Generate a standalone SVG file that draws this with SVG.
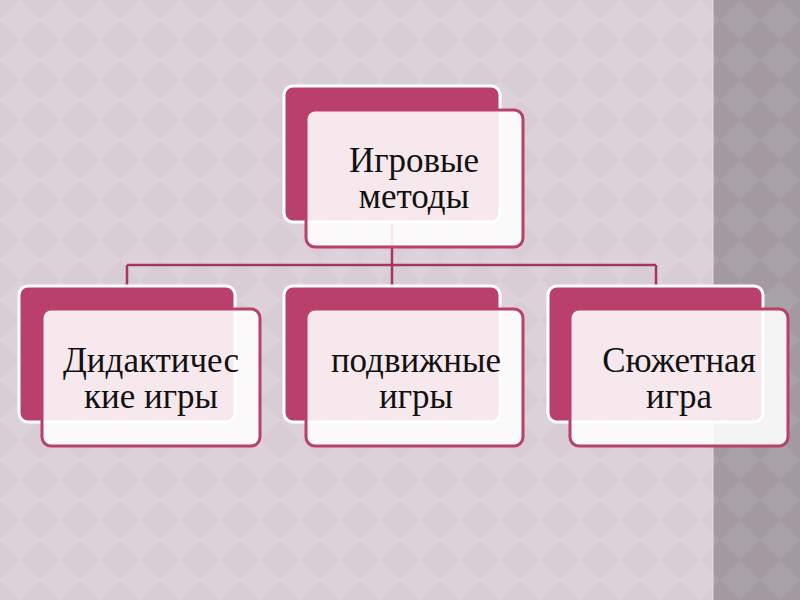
<svg xmlns="http://www.w3.org/2000/svg" width="800" height="600" viewBox="0 0 800 600">
<defs>
<pattern id="bgL" width="40" height="40" patternUnits="userSpaceOnUse">
<rect width="40" height="40" fill="#D9CDD5"/>
<path d="M20 0 L40 20 L20 40 L0 20Z" fill="#DDD2D9"/>
</pattern>
<pattern id="bgR" width="40" height="40" patternUnits="userSpaceOnUse">
<rect width="40" height="40" fill="#A29AA0"/>
<path d="M20 0 L40 20 L20 40 L0 20Z" fill="#A9A2A7"/>
</pattern>
<style>
.back{fill:#B8406A;stroke:#FFFFFF;stroke-width:3}
.front{fill:#FFFFFF;fill-opacity:0.88;stroke:#B8406A;stroke-width:3}
.lbl{font-family:"Liberation Serif","Times New Roman",serif;font-size:35px;fill:#111111;text-anchor:middle}
.conn{fill:none;stroke:#A8355F;stroke-width:2.5}
</style>
</defs>
<rect x="0" y="0" width="800" height="600" fill="url(#bgL)"/>
<rect x="713" y="0" width="87" height="600" fill="url(#bgR)"/>
<line x1="713" y1="0" x2="713" y2="600" stroke="#E4DAE0" stroke-width="1"/>

<g id="connectors">
<path class="conn" d="M392 222 V265 M127 265 H656 M127 265 V287 M392 265 V287 M656 265 V287"/>
</g>

<g id="node-top">
<rect class="back" x="284" y="86" width="216" height="136" rx="9"/>
<rect class="front" x="306" y="110" width="217" height="137" rx="9"/>
<text class="lbl" x="414" y="172">Игровые</text>
<text class="lbl" x="414" y="208">методы</text>
</g>

<g id="node-didactic">
<rect class="back" x="19" y="286" width="216" height="136" rx="9"/>
<rect class="front" x="42" y="309" width="218" height="137" rx="9"/>
<text class="lbl" x="151" y="372">Дидактичес</text>
<text class="lbl" x="151" y="408">кие игры</text>
</g>

<g id="node-mobile">
<rect class="back" x="284" y="286" width="216" height="136" rx="9"/>
<rect class="front" x="306" y="309" width="217" height="137" rx="9"/>
<text class="lbl" x="416" y="372">подвижные</text>
<text class="lbl" x="416" y="408">игры</text>
</g>

<g id="node-plot">
<rect class="back" x="548" y="286" width="215" height="136" rx="9"/>
<rect class="front" x="570" y="309" width="218" height="137" rx="9"/>
<text class="lbl" x="679" y="372">Сюжетная</text>
<text class="lbl" x="679" y="408">игра</text>
</g>
</svg>
